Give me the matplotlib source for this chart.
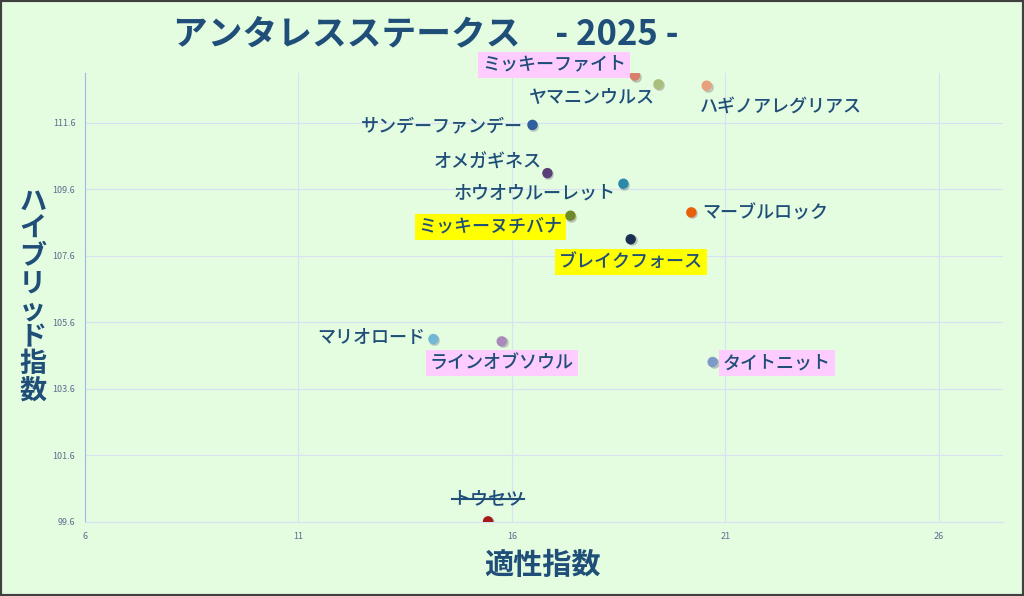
import matplotlib
matplotlib.use('Agg')
import matplotlib.pyplot as plt
from matplotlib.patches import Rectangle
from matplotlib.lines import Line2D

plt.rcParams['font.family'] = ['Noto Sans CJK JP', 'DejaVu Sans']

# データ
umamei = ['ミッキーファイト', 'ヤマニンウルス', 'ハギノアレグリアス', 'サンデーファンデー',
          'オメガギネス', 'ホウオウルーレット', 'ミッキーヌチバナ', 'マーブルロック',
          'ブレイクフォース', 'マリオロード', 'ラインオブソウル', 'タイトニット', 'トウセツ']
tekisei = [18.88, 19.43, 20.56, 16.48, 16.83, 18.61, 17.37, 20.20, 18.78, 14.16, 15.76, 20.70, 15.44]
hybrid = [113.02, 112.76, 112.72, 111.54, 110.09, 109.77, 108.81, 108.91, 108.10, 105.10, 105.03, 104.41, 99.62]
iro = ['#d9806c', '#a9bf7c', '#e9a07c', '#2f5f9f', '#5b3f7b', '#2a88a8', '#6f8a2c', '#e8600c',
       '#1b2f50', '#72b8d6', '#a98aba', '#7c99c8', '#a31c1c']
haikei = ['#ffccff', None, None, None, None, None, '#ffff00', None,
          '#ffff00', None, '#ffccff', '#ffccff', None]
torikeshi = ['トウセツ']

xticks = [6, 11, 16, 21, 26]
yticks = [99.6, 101.6, 103.6, 105.6, 107.6, 109.6, 111.6]

# ラベルの位置 (ピクセルオフセット, ha)
label_pos = {
    'ミッキーファイト': (-9, 11, 'right'),
    'ヤマニンウルス': (-3, -13, 'right'),
    'ハギノアレグリアス': (-7, -21, 'left'),
    'サンデーファンデー': (-10, -1, 'right'),
    'オメガギネス': (-6, 10, 'right'),
    'ホウオウルーレット': (-8, -10, 'right'),
    'ミッキーヌチバナ': (-8, -11, 'right'),
    'マーブルロック': (11, -1, 'left'),
    'ブレイクフォース': (0, -23, 'center'),
    'マリオロード': (-8, 1, 'right'),
    'ラインオブソウル': (0, -22, 'center'),
    'タイトニット': (10, -1, 'left'),
    'トウセツ': (0, 22, 'center'),
}

moji = '#1f4e79'
bg = '#e4fce0'

fig = plt.figure(figsize=(10.24, 5.96), dpi=100)
fig.patch.set_facecolor(bg)
ax = fig.add_axes([0.083, 0.1242, 0.8965, 0.7533])
ax.set_facecolor(bg)

ax.set_xlim(6, 27.5)
ax.set_ylim(99.6, 113.1)
ax.set_xticks(xticks)
ax.set_yticks(yticks)
ax.set_yticklabels([f'{v:.1f}' for v in yticks])
ax.tick_params(length=0, labelsize=6.5, labelcolor='#5b6f8f')
ax.tick_params(axis='y', pad=7)
ax.tick_params(axis='x', pad=7)
ax.grid(True, color='#d7e3f4', linewidth=0.8)
ax.set_axisbelow(True)
for s in ['top', 'right']:
    ax.spines[s].set_visible(False)
ax.spines['left'].set_color('#9fb8ef')
ax.spines['bottom'].set_color('#d7e3f4')

# 影
ax.scatter(tekisei, hybrid, s=46, c='#888888', alpha=0.35, zorder=2,
           transform=ax.transData + matplotlib.transforms.Affine2D().translate(1, -1))
ax.scatter(tekisei, hybrid, s=42, c=iro, zorder=5)

texts = []
for name, x, y, bgc in zip(umamei, tekisei, hybrid, haikei):
    dx, dy, ha = label_pos[name]
    kw = {}
    if bgc:
        kw['bbox'] = dict(boxstyle='square,pad=0.22', fc=bgc, ec='none')
    t = ax.annotate(name, (x, y), xytext=(dx, dy), textcoords='offset pixels',
                    ha=ha, va='center', fontsize=13, fontweight='medium',
                    color=moji, zorder=4, **kw)
    texts.append((name, t))

# タイトル
fig.text(0.169, 0.944, 'アンタレスステークス　- 2025 -', fontsize=25, fontweight='bold',
         color=moji, ha='left', va='center')

# 軸ラベル
fig.text(0.530, 0.052, '適性指数', fontsize=21, fontweight='bold', color=moji,
         ha='center', va='center')
for i, ch in enumerate('ハイブリッド指数'):
    fig.text(0.032, 1 - (202 + 27 * i) / 596, ch, fontsize=19.5, fontweight='bold',
             color=moji, ha='center', va='center')

# 取消線
fig.canvas.draw()
r = fig.canvas.get_renderer()
for name, t in texts:
    if name in torikeshi:
        bb = t.get_window_extent(r)
        ym = (bb.y0 + bb.y1) / 2
        fig.add_artist(Line2D([bb.x0 / 1024, bb.x1 / 1024], [ym / 596, ym / 596],
                              color=moji, linewidth=1.5))

# 枠
fig.add_artist(Rectangle((0, 0), 1, 1, transform=fig.transFigure, fill=False,
                         ec='#404040', lw=3))

fig.savefig('out.png', dpi=100, facecolor=bg)
